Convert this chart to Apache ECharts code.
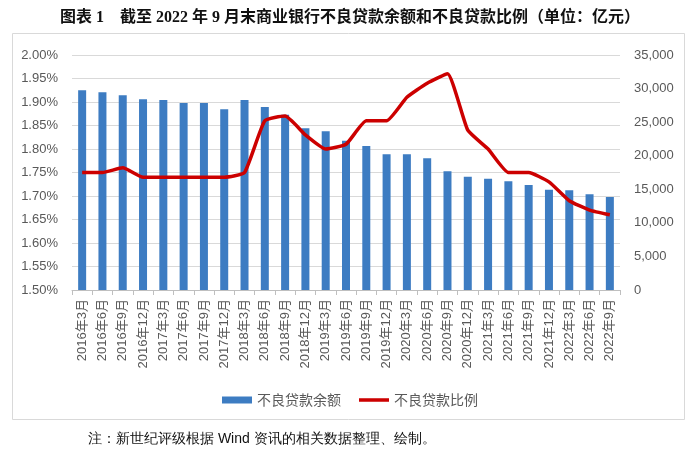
<!DOCTYPE html>
<html>
<head>
<meta charset="utf-8">
<script src="https://cdn.jsdelivr.net/npm/echarts@6/dist/echarts.min.js"></script>
<style>
html,body{margin:0;padding:0;background:#fff;}
#c{width:700px;height:456px;}
</style>
</head>
<body>
<div id="c"></div>
<script>
var categories = ['2016年3月','2016年6月','2016年9月','2016年12月','2017年3月','2017年6月','2017年9月','2017年12月','2018年3月','2018年6月','2018年9月','2018年12月','2019年3月','2019年6月','2019年9月','2019年12月','2020年3月','2020年6月','2020年9月','2020年12月','2021年3月','2021年6月','2021年9月','2021年12月','2022年3月','2022年6月','2022年9月'];
var balanceValues = [29740,29450,29000,28400,28300,27850,27850,26910,28300,27260,26100,24080,23640,22240,21450,20210,20210,19620,17680,16880,16580,16190,15640,14940,14850,14250,13850];
var ratioValues = [1.75,1.75,1.76,1.74,1.74,1.74,1.74,1.74,1.75,1.86,1.87,1.83,1.80,1.81,1.86,1.86,1.91,1.94,1.96,1.84,1.80,1.75,1.75,1.73,1.69,1.67,1.66];
var leftTicks = {min:1.5, max:2.0, interval:0.05};
var rightTicks = {min:0, max:35000, interval:5000};

var chart = echarts.init(document.getElementById('c'));
var labelFont = "'Liberation Sans','Noto Sans CJK SC',sans-serif";
chart.setOption({
  animation:false,
  backgroundColor:'#fff',
  title:{
    text:'图表 1    截至 2022 年 9 月末商业银行不良贷款余额和不良贷款比例（单位：亿元）',
    left:'center', top:5,
    textStyle:{fontSize:16, fontWeight:'bold', color:'#111', fontFamily:"'Liberation Serif','Noto Sans CJK SC',serif"}
  },
  graphic:[
    {type:'rect', shape:{x:12.5,y:33.5,width:672,height:386}, style:{fill:'none', stroke:'#d9d9d9', lineWidth:1}, silent:true},
    {type:'text', left:88, top:432, style:{text:'注：新世纪评级根据 Wind 资讯的相关数据整理、绘制。', fontSize:14, fill:'#111', font:"14px 'Liberation Serif','Noto Sans CJK SC',serif"}}
  ],
  legend:{
    top:388, left:'center',
    itemGap:18, itemWidth:30, itemHeight:7,
    textStyle:{fontSize:14, color:'#595959', fontFamily:"'Noto Sans CJK SC',sans-serif"},
    data:[{name:'不良贷款余额', icon:'rect'}, {name:'不良贷款比例', icon:'path://M0,0 L34,0 L34,4 L0,4 Z'}]
  },
  grid:{left:72, right:80, top:55, bottom:166},
  xAxis:{
    type:'category', data:categories, boundaryGap:true,
    axisLine:{lineStyle:{color:'#bfbfbf'}},
    axisTick:{show:true, alignWithLabel:false, length:5, lineStyle:{color:'#bfbfbf'}},
    axisLabel:{rotate:90, interval:0, fontSize:13, color:'#595959', margin:9, fontFamily:labelFont}
  },
  yAxis:[
    {type:'value', min:leftTicks.min, max:leftTicks.max, interval:leftTicks.interval,
     axisLine:{show:false}, axisTick:{show:false},
     splitLine:{lineStyle:{color:'#d9d9d9', width:1}},
     axisLabel:{fontSize:13, color:'#595959', margin:14, fontFamily:labelFont, formatter:function(v){return v.toFixed(2)+'%';}}},
    {type:'value', min:rightTicks.min, max:rightTicks.max, interval:rightTicks.interval,
     axisLine:{show:false}, axisTick:{show:false}, splitLine:{show:false},
     axisLabel:{fontSize:13, color:'#595959', margin:14, fontFamily:labelFont, formatter:function(v){return v.toLocaleString('en-US');}}}
  ],
  series:[
    {name:'不良贷款余额', type:'bar', yAxisIndex:1, data:balanceValues, barWidth:8,
     itemStyle:{color:'#3d7cc2'}},
    {name:'不良贷款比例', type:'line', yAxisIndex:0, data:ratioValues, symbol:'none', smooth:0.15,
     lineStyle:{color:'#cc0000', width:3.5}, itemStyle:{color:'#cc0000'}}
  ]
});
</script>
</body>
</html>
